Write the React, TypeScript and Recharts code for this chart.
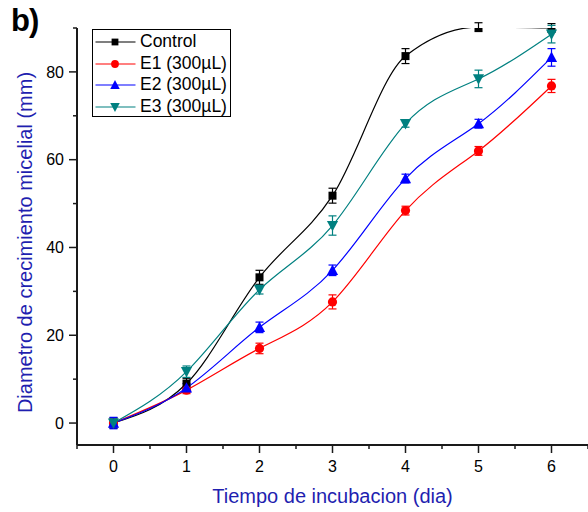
import { LineChart, Line, XAxis, YAxis, ErrorBar, Legend } from 'recharts'

// incubation days
const dias = [0, 1, 2, 3, 4, 5, 6]

// mycelial growth diameter (mm) with error per treatment
const control = [0, 9, 33.2, 51.8, 83.6, 90.2, 90]
const controlErr = [1.2, 1.2, 1.6, 1.7, 1.7, 1, 1]
const e1 = [0, 7.5, 17, 27.6, 48.4, 62, 76.8]
const e1Err = [1, 0.8, 1.2, 1.6, 1, 1, 1.5]
const e2 = [0, 8, 21.8, 34.8, 55.7, 68.2, 83.3]
const e2Err = [1.3, 1, 1.2, 1.2, 1, 1, 2]
const e3 = [0, 11.7, 30.4, 45, 68.2, 78.4, 88.6]
const e3Err = [1, 1.3, 1, 2.2, 0.8, 2, 2]

const xTicks = [-0.5, 0, 0.5, 1, 1.5, 2, 2.5, 3, 3.5, 4, 4.5, 5, 5.5, 6, 6.5]
const yTicks = [0, 10, 20, 30, 40, 50, 60, 70, 80, 90]

const series = [
  { key: 'control', name: 'Control', color: '#000000', marker: 'square', curve: 'monotone' },
  { key: 'e1', name: 'E1 (300µL)', color: '#ff0000', marker: 'circle', curve: 'natural' },
  { key: 'e2', name: 'E2 (300µL)', color: '#0000ff', marker: 'up', curve: 'natural' },
  { key: 'e3', name: 'E3 (300µL)', color: '#008080', marker: 'down', curve: 'natural' },
]

const data = dias.map((d, i) => ({
  dia: d,
  control: control[i],
  controlErr: controlErr[i],
  e1: e1[i],
  e1Err: e1Err[i],
  e2: e2[i],
  e2Err: e2Err[i],
  e3: e3[i],
  e3Err: e3Err[i],
}))

const FONT = '"Liberation Sans", Arial, sans-serif'
const AXIS = '#1a1a1a'
const LABEL_BLUE = '#1f1fb0'

function Marker({ cx, cy, kind, color, k = 1 }: any) {
  if (cx == null || cy == null) return null
  if (kind === 'square') {
    const h = 4 * k
    return <rect x={cx - h} y={cy - h} width={2 * h} height={2 * h} fill={color} />
  }
  if (kind === 'circle') return <circle cx={cx} cy={cy} r={4.6 * k} fill={color} />
  const w = 5.6 * k
  const t = 5.8 * k
  const b = 4.6 * k
  if (kind === 'up') {
    return <polygon points={`${cx},${cy - t} ${cx - w},${cy + b} ${cx + w},${cy + b}`} fill={color} />
  }
  return <polygon points={`${cx},${cy + t} ${cx - w},${cy - b} ${cx + w},${cy - b}`} fill={color} />
}

function XTick({ x, y, payload }: any) {
  const major = Number.isInteger(payload.value)
  return (
    <g>
      <line x1={x} x2={x} y1={y} y2={y + (major ? 8 : 4)} stroke={AXIS} strokeWidth={1.5} />
      {major && (
        <text x={x} y={y + 26.5} textAnchor="middle" fontSize={16} fill="#000">
          {payload.value}
        </text>
      )}
    </g>
  )
}

function YTick({ x, y, payload }: any) {
  const major = payload.value % 20 === 0
  return (
    <g>
      <line x1={x - (major ? 8 : 4)} x2={x} y1={y} y2={y} stroke={AXIS} strokeWidth={1.5} />
      {major && (
        <text x={x - 13} y={y} dy="0.36em" textAnchor="end" fontSize={16} fill="#000">
          {payload.value}
        </text>
      )}
    </g>
  )
}

function renderLegend() {
  return (
    <div
      style={{
        boxSizing: 'border-box',
        width: 139,
        height: 88,
        border: '1px solid #000',
        background: '#fff',
        paddingTop: 1,
        fontFamily: FONT,
        fontSize: 17.5,
        color: '#000',
      }}
    >
      {series.map((s) => (
        <div key={s.key} style={{ display: 'flex', alignItems: 'center', height: 21.7 }}>
          <svg width={46} height={20} style={{ display: 'block' }}>
            <line x1={2.5} x2={42.5} y1={10} y2={10} stroke={s.color} strokeWidth={1.2} />
            <Marker cx={22} cy={10} kind={s.marker} color={s.color} k={0.85} />
          </svg>
          <span style={{ marginLeft: 1, lineHeight: 1 }}>{s.name}</span>
        </div>
      ))}
    </div>
  )
}

export default function App() {
  return (
    <div
      style={{
        position: 'absolute',
        left: 0,
        top: 0,
        width: 588,
        height: 512,
        background: '#fff',
        fontFamily: FONT,
      }}
    >
      <div
        style={{
          position: 'absolute',
          left: 11,
          top: 3,
          fontSize: 31,
          fontWeight: 700,
          letterSpacing: -1,
          color: '#000',
        }}
      >
        b)
      </div>
      <LineChart width={588} height={512} data={data} margin={{ top: 28, right: 0, bottom: 0, left: 0 }}>
        <XAxis
          dataKey="dia"
          type="number"
          domain={[-0.5, 6.5]}
          ticks={xTicks}
          interval={0}
          allowDataOverflow
          tickSize={0}
          tickMargin={0}
          tickLine={false}
          tick={<XTick />}
          axisLine={{ stroke: AXIS, strokeWidth: 2 }}
          height={67}
          label={(p: any) => {
            const vb = p.viewBox
            return (
              <text x={vb.x + vb.width / 2} y={503} textAnchor="middle" fontSize={20} fill={LABEL_BLUE}>
                Tiempo de incubacion (dia)
              </text>
            )
          }}
        />
        <YAxis
          type="number"
          domain={[-5, 90]}
          ticks={yTicks}
          interval={0}
          allowDataOverflow
          tickSize={0}
          tickMargin={0}
          tickLine={false}
          tick={<YTick />}
          axisLine={{ stroke: AXIS, strokeWidth: 2 }}
          width={77}
          label={(p: any) => {
            const vb = p.viewBox
            const cy = vb.y + vb.height / 2 + 6
            return (
              <text
                x={0}
                y={0}
                transform={`translate(25, ${cy}) rotate(-90)`}
                textAnchor="middle"
                dominantBaseline="central"
                fontSize={20}
                fill={LABEL_BLUE}
              >
                Diametro de crecimiento micelial (mm)
              </text>
            )
          }}
        />
        <Legend
          layout="horizontal"
          verticalAlign="middle"
          align="center"
          content={renderLegend}
          wrapperStyle={{ left: 92, top: 29, width: 139, height: 88 }}
        />
        {series.map((s) => (
          <Line
            key={s.key}
            type={s.curve as any}
            dataKey={s.key}
            name={s.name}
            stroke={s.color}
            strokeWidth={1.2}
            isAnimationActive={false}
            activeDot={false}
            dot={(p: any) => (
              <Marker key={`${s.key}-${p.index}`} cx={p.cx} cy={p.cy} kind={s.marker} color={s.color} />
            )}
          >
            <ErrorBar dataKey={`${s.key}Err`} direction="y" width={4} stroke={s.color} strokeWidth={1.2} />
          </Line>
        ))}
      </LineChart>
    </div>
  )
}
